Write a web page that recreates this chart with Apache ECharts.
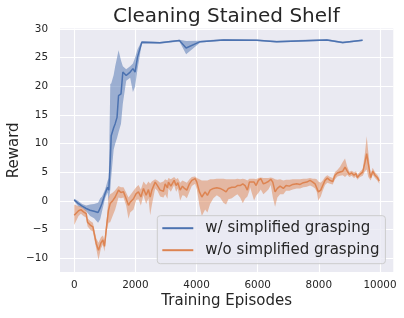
<!DOCTYPE html>
<html>
<head>
<meta charset="utf-8">
<script src="https://cdn.jsdelivr.net/npm/echarts@6/dist/echarts.min.js"></script>
<style>html,body{margin:0;padding:0;background:#fff;}#c{width:404px;height:318px;}</style>
</head>
<body>
<div id="c"></div>
<script>
const chartTitle = 'Cleaning Stained Shelf';
const xTitle = 'Training Episodes';
const yTitle = 'Reward';
const seriesNames = ['w/ simplified grasping', 'w/o simplified grasping'];
const xTicks = [0, 2000, 4000, 6000, 8000, 10000];
const yTicks = [-10, -5, 0, 5, 10, 15, 20, 25, 30];

const episodesA = [0, 130, 260, 390, 520, 650, 780, 850, 910, 1010, 1090, 1130, 1180, 1210, 1290, 1340, 1400, 1450, 1530, 1590, 1700, 1830, 1920, 1990, 2070, 2210, 2800, 3440, 3660, 4120, 4880, 5970, 6620, 8260, 8780, 9430];
const meanA = [0.2, -0.4, -0.9, -1.3, -1.6, -1.8, -2.0, -1.2, -0.4, 1.3, 2.4, 1.9, 7.1, 11.4, 12.8, 13.5, 14.6, 18.4, 18.7, 22.5, 21.9, 22.5, 23.1, 22.5, 25.1, 27.7, 27.6, 28.0, 26.7, 27.8, 28.1, 28.05, 27.8, 28.1, 27.65, 28.05];
const lowA = [0.0, -0.9, -1.2, -1.8, -2.6, -3.0, -3.8, -3.2, -1.8, 0.5, 1.5, 0.0, 2.0, 4.2, 9.0, 10.0, 11.0, 12.0, 13.5, 17.0, 21.0, 21.5, 19.0, 20.0, 23.0, 27.5, 27.45, 27.85, 25.6, 27.65, 27.95, 27.9, 27.65, 27.95, 27.5, 27.9];
const highA = [0.4, 0.0, -0.5, -0.8, -0.6, -0.5, -0.3, 0.5, 0.8, 2.0, 3.5, 4.0, 20.4, 20.5, 22.0, 23.5, 25.0, 26.3, 24.5, 23.5, 23.0, 23.5, 24.0, 25.0, 26.5, 27.9, 27.75, 28.15, 27.9, 27.95, 28.25, 28.2, 27.95, 28.25, 27.8, 28.2];

const episodesB = [0, 141, 219, 304, 392, 435, 523, 611, 719, 794, 873, 938, 990, 1069, 1121, 1176, 1265, 1340, 1448, 1526, 1611, 1699, 1775, 1830, 1938, 2026, 2101, 2180, 2265, 2353, 2428,
  2484, 2539, 2647, 2722, 2810, 2918, 2974, 3049, 3082, 3160, 3268, 3333, 3389, 3464, 3539, 3605, 3683, 3768, 3846, 3954, 4010, 4095, 4173, 4281, 4356, 4444, 4552, 4663, 4771, 4879, 4967, 5042, 5154, 5261, 5337, 5425, 5513, 5588, 5663, 5729,
  5752, 5882, 5948, 6023, 6101, 6186, 6275, 6350, 6428, 6493, 6569, 6644, 6732, 6840, 6928, 7036, 7147, 7278, 7386, 7493, 7605, 7712, 7801, 7876, 7931, 7984, 8062, 8127, 8203, 8278, 8366, 8454, 8529, 8605, 8693, 8781, 8856, 8931, 8997, 9075, 9150, 9216, 9258, 9346, 9435, 9510, 9565, 9618, 9696, 9761, 9837, 9912, 9977];
const meanB = [-2.5, -1.7, -1.5, -1.9, -2.2, -3.7, -4.2, -4.5, -7.4, -8.6, -7.3, -6.8, -7.9, -3.9, -1.6, -0.45, 0.1, 0.7, 1.9, 1.5, 1.6, 0.4, -0.75, -0.2, 0.4, 1.3, 1.6, 0.7, 2.2, 1.0, 2.0,
  0.7, 1.9, 3.3, 2.7, 1.9, 1.7, 3.0, 2.3, 3.3, 2.6, 3.6, 2.7, 3.2, 1.9, 2.6, 2.2, 1.9, 3.0, 3.6, 3.9, 3.3, 1.6, 0.7, 1.6, 1.0, 1.9, 2.2, 2.3, 2.2, 1.9, 1.6, 2.2, 2.4, 2.4, 2.7, 2.7, 3.0, 2.7, 1.9, 3.3,
  3.6, 3.3, 2.7, 3.6, 3.9, 3.0, 3.2, 3.4, 3.8, 3.3, 1.6, 2.2, 2.6, 2.2, 2.7, 2.6, 2.9, 3.0, 2.9, 3.2, 3.3, 3.6, 3.3, 3.0, 2.7, 1.6, 1.9, 2.7, 3.6, 4.0, 3.6, 3.4, 4.5, 4.9, 5.05, 5.2, 5.9, 5.2, 4.65, 4.9, 4.5, 4.8, 4.1, 4.65, 5.05, 6.8, 8.25, 6.5, 4.1, 5.2, 4.5, 4.1, 3.5];
const lowB = [-4.2, -2.6, -2.2, -2.6, -2.9, -4.4, -5.0, -5.3, -8.3, -10.3, -8.3, -7.6, -8.8, -5.0, -3.8, -3.7, -2.5, -1.5, 0.6, 0.5, 0.6, -0.8, -3.1, -2.0, -1.5, 0.2, 0.3, -0.8, 1.0, -0.5, 0.5,
  -2.5, -0.7, 2.2, 1.8, 0.8, 0.6, 1.2, 0.4, 2.2, 1.6, 2.8, 1.6, 2.2, 0.1, 1.0, 0.9, 0.5, 1.6, 2.6, 3.0, 2.0, -0.8, -2.6, -1.5, -2.0, -0.5, 0.5, 1.0, 0.6, -0.3, -0.6, 0.3, 0.5, 0.9, 1.2, 0.6, -0.4, 0.4, 0.8, 1.8,
  2.4, 0.1, 0.9, 1.4, 2.0, 1.2, 1.6, 2.0, 2.8, 0.7, -1.0, 0.6, 1.2, 1.2, 1.8, 1.8, 2.0, 2.2, 2.2, 2.4, 2.5, 2.7, 2.5, 2.2, 1.6, 0.1, 0.8, 1.8, 2.8, 3.2, 3.0, 2.9, 3.8, 4.3, 4.4, 4.5, 4.2, 4.6, 4.2, 4.4, 4.0, 4.3, 3.7, 4.2, 4.4, 5.2, 5.5, 4.2, 3.6, 4.6, 4.0, 3.6, 3.0];
const highB = [-0.6, -0.9, -0.9, -1.3, -1.6, -3.0, -3.5, -3.8, -6.5, -7.3, -6.3, -6.0, -6.8, -2.8, 0.6, 1.2, 1.5, 1.9, 2.6, 2.4, 2.4, 1.5, 0.6, 1.0, 1.8, 2.4, 2.8, 2.0, 3.4, 2.8, 3.4,
  3.0, 3.4, 3.8, 3.6, 3.2, 3.4, 3.8, 3.6, 4.0, 3.8, 4.2, 3.8, 4.0, 3.2, 3.6, 3.4, 3.2, 3.8, 4.2, 4.3, 4.0, 3.8, 3.6, 3.6, 3.6, 3.8, 3.8, 3.9, 3.9, 3.9, 3.8, 3.8, 3.8, 3.8, 3.9, 3.8, 3.9, 3.8, 3.6, 3.9,
  3.9, 3.9, 3.8, 4.0, 4.1, 4.0, 4.0, 4.0, 4.1, 4.0, 3.8, 3.7, 3.8, 3.6, 3.7, 3.7, 3.8, 3.8, 3.8, 3.9, 3.9, 4.0, 3.9, 3.9, 3.8, 3.4, 3.2, 3.6, 4.2, 4.5, 4.2, 4.0, 5.05, 5.4, 6.0, 6.8, 7.4, 6.0, 5.1, 5.3, 5.0, 5.2, 4.6, 5.1, 5.6, 8.5, 11.3, 8.5, 4.6, 5.8, 5.0, 4.6, 4.0];

const colA = '#4c72b0';
const colB = '#dd8452';
const FONT = 'DejaVu Sans';

function pairs(xs, ys) { return xs.map((x, i) => [x, ys[i]]); }

function bandSeries(key, xs, lo, hi, color) {
  return {
    name: key + 'band', type: 'custom', silent: true, z: 1,
    data: xs.map((x, i) => [x, lo[i], hi[i]]),
    encode: { x: 0, y: [1, 2] },
    clip: true,
    renderItem: function (params, api) {
      if (params.dataIndex !== 0) return null;
      const pts = [];
      for (let i = 0; i < xs.length; i++) pts.push(api.coord([xs[i], hi[i]]));
      for (let i = xs.length - 1; i >= 0; i--) pts.push(api.coord([xs[i], lo[i]]));
      return { type: 'polygon', shape: { points: pts }, style: { fill: color, opacity: 0.5 } };
    }
  };
}

const chart = echarts.init(document.getElementById('c'), null, { renderer: 'canvas' });
chart.setOption({
  animation: false,
  backgroundColor: '#ffffff',
  title: {
    text: chartTitle, left: 113, top: 7, padding: 0,
    textStyle: { fontFamily: FONT, fontSize: 20, fontWeight: 'normal', color: '#262626' }
  },
  grid: { left: 60, right: 10.7, top: 28.5, bottom: 45.9, show: true, backgroundColor: '#eaeaf2', borderWidth: 0,
    containLabel: false, outerBoundsMode: 'none' },
  legend: {
    data: seriesNames, orient: 'vertical', left: 157.3, top: 215.7,
    padding: [5, 6, 6, 5], itemGap: 7, itemWidth: 31, itemHeight: 2, icon: 'rect',
    backgroundColor: 'rgba(234,234,242,0.8)', borderColor: '#cccccc', borderWidth: 1, borderRadius: 3,
    textStyle: { fontFamily: FONT, fontSize: 15, color: '#262626', padding: [0, 0, 0, 7] }
  },
  xAxis: {
    type: 'value', min: -465, max: 10435,
    name: xTitle, nameLocation: 'middle', nameGap: 22, nameMoveOverlap: false,
    nameTextStyle: { fontFamily: FONT, fontSize: 15, color: '#262626' },
    axisLine: { show: false },
    axisTick: { show: false, customValues: xTicks },
    axisLabel: { customValues: xTicks, formatter: v => String(v), fontFamily: FONT, fontSize: 10.4, color: '#262626', margin: 8 },
    splitLine: { show: true, lineStyle: { color: '#ffffff', width: 1.1 } }
  },
  yAxis: {
    type: 'value', min: -12.4, max: 30.1,
    name: yTitle, nameLocation: 'middle', nameGap: 38, nameMoveOverlap: false,
    nameTextStyle: { fontFamily: FONT, fontSize: 15, color: '#262626' },
    axisLine: { show: false },
    axisTick: { show: false, customValues: yTicks },
    axisLabel: { customValues: yTicks, formatter: v => (v < 0 ? '\u2212' + String(-v) : String(v)), fontFamily: FONT, fontSize: 10.4, color: '#262626', margin: 12 },
    splitLine: { show: true, lineStyle: { color: '#ffffff', width: 1.1 } }
  },
  series: [
    bandSeries('A', episodesA, lowA, highA, colA),
    { name: seriesNames[0], type: 'line', data: pairs(episodesA, meanA), symbol: 'none',
      lineStyle: { color: colA, width: 1.5 }, itemStyle: { color: colA }, z: 2 },
    bandSeries('B', episodesB, lowB, highB, colB),
    { name: seriesNames[1], type: 'line', data: pairs(episodesB, meanB), symbol: 'none',
      lineStyle: { color: colB, width: 1.5 }, itemStyle: { color: colB }, z: 2 }
  ]
});
</script>
</body>
</html>
